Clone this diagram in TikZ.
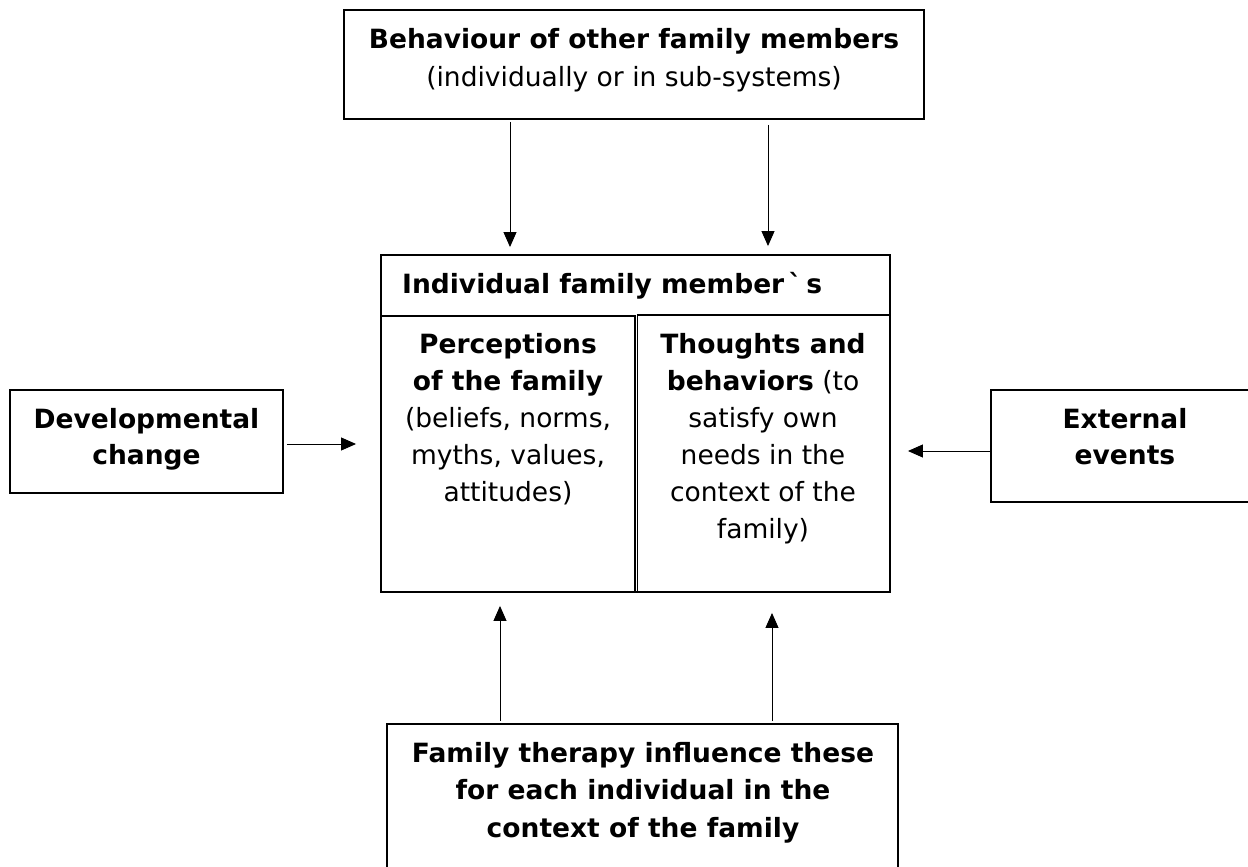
\documentclass[tikz,border=0pt]{standalone}
\usepackage{fontspec}
\setmainfont{DejaVu Sans}
\usetikzlibrary{arrows.meta}
\begin{document}
\begin{tikzpicture}[x=1pt,y=-1pt,
  box/.style={draw, line width=1.9pt, rectangle, inner sep=0pt},
  ln/.style={anchor=base, inner sep=0pt, font=\fontsize{26.5}{37}\selectfont},
  arr/.style={-{Triangle[length=15pt,width=13pt]}, line width=1pt}]
\useasboundingbox (0,0) rectangle (1248,867);

% boxes
\node[box, minimum width=580pt, minimum height=109pt] (top) at (634,64.5) {};
\node[box, minimum width=509pt, minimum height=337pt] (main) at (635.5,423.5) {};
\node[box, minimum width=254pt, minimum height=276pt] (perc) at (508,454) {};
\node[box, minimum width=252.5pt, minimum height=277pt] (thou) at (763.75,453.5) {};
\node[box, minimum width=273pt, minimum height=103pt] (dev) at (146.5,441.5) {};
\node[box, minimum width=269pt, minimum height=112pt] (ext) at (1125.5,446) {};
\node[box, minimum width=511pt, minimum height=170pt] (bot) at (642.5,809) {};

% texts: top box
\node[ln] (t1) at (634,49) {\textbf{Behaviour of other family members}};
\node[ln] (t2) at (634,87) {(individually or in sub-systems)};

% header
\node[ln, anchor=base west] (h1) at (402,293) {\textbf{Individual family member\,{\symbol{"02CB}}\,s}};

% left column
\node[ln] (p1) at (508,353) {\textbf{Perceptions}};
\node[ln] (p2) at (508,390) {\textbf{of the family}};
\node[ln] (p3) at (508,427) {(beliefs, norms,};
\node[ln] (p4) at (508,464) {myths, values,};
\node[ln] (p5) at (508,501) {attitudes)};

% right column
\node[ln] (q1) at (763,353) {\textbf{Thoughts and}};
\node[ln] (q2) at (763,390) {\textbf{behaviors} (to};
\node[ln] (q3) at (763,427) {satisfy own};
\node[ln] (q4) at (763,464) {needs in the};
\node[ln] (q5) at (763,501) {context of the};
\node[ln] (q6) at (763,538) {family)};

% side boxes
\node[ln] (d1) at (146.5,428) {\textbf{Developmental}};
\node[ln] (d2) at (146.5,464) {\textbf{change}};
\node[ln] (e1) at (1125,428) {\textbf{External}};
\node[ln] (e2) at (1125,464) {\textbf{events}};

% bottom box
\node[ln] (b1) at (643,762) {\textbf{Family therapy influence these}};
\node[ln] (b2) at (643,799) {\textbf{for each individual in the}};
\node[ln] (b3) at (643,837) {\textbf{context of the family}};

% connector columns
\coordinate (ca) at (510,0);
\coordinate (cb) at (768,0);
\coordinate (cc) at (500,0);
\coordinate (cd) at (772,0);
\coordinate (ce) at (0,444);
\coordinate (cf) at (0,451);

\draw[arr, shorten <=2pt, shorten >=7pt] (top.south -| ca) -- (main.north -| ca);
\draw[arr, shorten <=5pt, shorten >=8pt] (top.south -| cb) -- (main.north -| cb);
\draw[arr, shorten <=3pt, shorten >=24pt] (dev.east |- ce) -- (main.west |- ce);
\draw[arr, shorten >=17pt] (ext.west |- cf) -- (main.east |- cf);
\draw[arr, shorten <=2pt, shorten >=13pt] (bot.north -| cc) -- (main.south -| cc);
\draw[arr, shorten <=2pt, shorten >=20pt] (bot.north -| cd) -- (main.south -| cd);
\end{tikzpicture}
\end{document}
